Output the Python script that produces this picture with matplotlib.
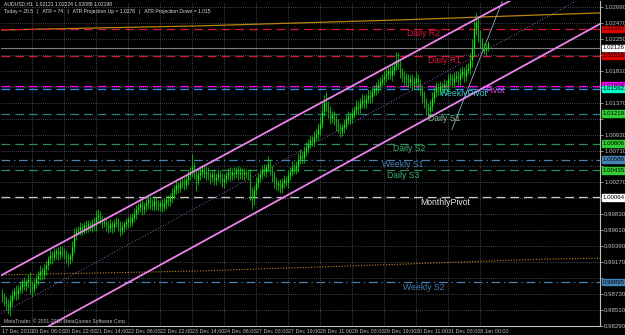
import matplotlib
matplotlib.use("Agg")
import matplotlib.pyplot as plt
import numpy as np
from matplotlib.transforms import blended_transform_factory

# ---------------- data (AUDUSD, H1) ----------------
first_open = 0.9872
closes = [
    0.9869, 0.9866, 0.9859, 0.9855, 0.9863, 0.9872, 0.9877, 0.9873, 0.9880, 0.9883,
    0.9888, 0.9884, 0.9889, 0.9894, 0.9885, 0.9880, 0.9888, 0.9894, 0.9899, 0.9905,
    0.9900, 0.9907, 0.9913, 0.9921, 0.9927, 0.9924, 0.9929, 0.9932, 0.9928, 0.9933,
    0.9931, 0.9927, 0.9924, 0.9921, 0.9925, 0.9938, 0.9954, 0.9960, 0.9962, 0.9965,
    0.9962, 0.9968, 0.9965, 0.9969, 0.9966, 0.9971, 0.9968, 0.9979, 0.9982, 0.9976,
    0.9971, 0.9973, 0.9968, 0.9964, 0.9969, 0.9965, 0.9971, 0.9973, 0.9968, 0.9962,
    0.9965, 0.9969, 0.9972, 0.9976, 0.9973, 0.9979, 0.9984, 0.9990, 0.9993, 0.9997,
    0.9990, 0.9995, 0.9999, 1.0004, 0.9998, 0.9995, 1.0001, 0.9997, 0.9994, 0.9998,
    0.9993, 0.9999, 1.0004, 1.0001, 1.0006, 1.0012, 1.0017, 1.0023, 1.0020, 1.0026,
    1.0028, 1.0024, 1.0031, 1.0037, 1.0042, 1.0048, 1.0039, 1.0031, 1.0037, 1.0042,
    1.0045, 1.0039, 1.0042, 1.0037, 1.0034, 1.0038, 1.0031, 1.0035, 1.0039, 1.0034,
    1.0028, 1.0032, 1.0037, 1.0041, 1.0037, 1.0042, 1.0039, 1.0043, 1.0039, 1.0042,
    1.0038, 1.0041, 1.0039, 1.0037, 1.0015, 1.0006, 1.0017, 1.0026, 1.0034, 1.0039,
    1.0045, 1.0042, 1.0048, 1.0053, 1.0045, 1.0037, 1.0028, 1.0023, 1.0026, 1.0020,
    1.0026, 1.0031, 1.0028, 1.0037, 1.0042, 1.0048, 1.0045, 1.0050, 1.0059, 1.0065,
    1.0061, 1.0070, 1.0075, 1.0081, 1.0086, 1.0083, 1.0090, 1.0094, 1.0100, 1.0108,
    1.0125, 1.0138, 1.0133, 1.0125, 1.0116, 1.0120, 1.0114, 1.0107, 1.0103, 1.0098,
    1.0103, 1.0108, 1.0114, 1.0119, 1.0116, 1.0122, 1.0127, 1.0133, 1.0130, 1.0136,
    1.0141, 1.0137, 1.0142, 1.0148, 1.0145, 1.0152, 1.0155, 1.0158, 1.0162, 1.0166,
    1.0169, 1.0174, 1.0177, 1.0180, 1.0175, 1.0182, 1.0188, 1.0196, 1.0191, 1.0180,
    1.0174, 1.0169, 1.0171, 1.0166, 1.0170, 1.0163, 1.0166, 1.0171, 1.0163, 1.0155,
    1.0147, 1.0138, 1.0130, 1.0125, 1.0133, 1.0144, 1.0152, 1.0158, 1.0155, 1.0160,
    1.0158, 1.0163, 1.0160, 1.0169, 1.0171, 1.0166, 1.0171, 1.0174, 1.0169, 1.0177,
    1.0180, 1.0174, 1.0182, 1.0185, 1.0196, 1.0213, 1.0240, 1.0248, 1.0229, 1.0221,
    1.0215, 1.0210, 1.02121, 1.02198,
]
up_wick_pips = [
    8, 6, 5, 7, 9, 6, 5, 8, 6, 7,   6, 8, 5, 7, 10, 6, 7, 5, 6, 8,
    5, 7, 6, 5, 8, 6, 7, 5, 6, 7,   6, 5, 7, 6, 5, 8, 10, 6, 5, 7,
    6, 5, 7, 6, 5, 6, 8, 10, 9, 5,  6, 7, 5, 6, 8, 5, 6, 7, 5, 6,
    7, 5, 6, 5, 7, 6, 8, 6, 5, 7,   6, 5, 7, 6, 5, 6, 7, 5, 6, 5,
    6, 7, 5, 6, 7, 8, 6, 7, 5, 6,   7, 6, 8, 7, 6, 18, 7, 5, 6, 7,
    6, 5, 7, 6, 5, 6, 7, 5, 6, 5,   6, 7, 5, 6, 7, 5, 6, 5, 7, 6,
    5, 6, 5, 6, 8, 6, 7, 8, 6, 7,   6, 7, 5, 10, 6, 5, 6, 7, 5, 6,
    7, 6, 5, 7, 6, 8, 6, 7, 9, 8,   6, 7, 8, 6, 7, 5, 8, 7, 9, 10,
    12, 10, 14, 6, 7, 6, 5, 6, 7, 6, 5, 6, 7, 6, 5, 7, 6, 8, 6, 7,
    8, 6, 7, 8, 6, 7, 6, 8, 7, 6,   8, 7, 8, 6, 7, 8, 7, 11, 9, 6,
    5, 6, 7, 6, 5, 7, 6, 8, 5, 6,   5, 6, 5, 6, 7, 8, 7, 8, 6, 7,
    6, 7, 5, 8, 7, 6, 8, 7, 6, 8,   7, 6, 8, 7, 10, 12, 14, 12, 6, 8,
    5, 4, 6, 2.6,
]
dn_wick_pips = [
    7, 9, 8, 10, 12, 7, 6, 8, 7, 6,  8, 6, 7, 8, 12, 9, 6, 7, 8, 6,
    7, 6, 8, 7, 6, 9, 6, 7, 8, 6,    7, 6, 8, 9, 7, 6, 8, 7, 6, 8,
    7, 6, 8, 7, 6, 7, 6, 8, 7, 6,    7, 6, 8, 7, 6, 8, 7, 6, 8, 9,
    6, 7, 6, 8, 7, 6, 7, 8, 6, 7,    8, 6, 7, 8, 7, 6, 7, 8, 6, 7,
    7, 6, 8, 7, 6, 7, 8, 6, 7, 6,    7, 8, 6, 7, 6, 8, 7, 16, 7, 6,
    7, 6, 8, 7, 9, 7, 8, 7, 6, 8,    7, 8, 6, 7, 8, 6, 7, 6, 8, 7,
    6, 7, 6, 7, 12, 16, 10, 8, 7, 6, 7, 6, 8, 7, 8, 9, 8, 7, 8, 7,
    8, 7, 6, 8, 7, 6, 7, 6, 8, 7,    8, 7, 6, 8, 7, 6, 7, 6, 8, 7,
    6, 7, 8, 9, 8, 7, 8, 9, 8, 9,    7, 8, 7, 6, 8, 7, 6, 7, 8, 7,
    6, 8, 7, 6, 8, 7, 6, 7, 8, 7,    6, 7, 8, 7, 6, 8, 7, 6, 8, 9,
    8, 7, 9, 8, 7, 8, 7, 6, 9, 8,    10, 9, 10, 9, 8, 7, 8, 7, 8, 7,
    8, 7, 6, 8, 7, 8, 7, 6, 8, 7,    6, 8, 7, 6, 8, 10, 12, 10, 8, 9,
    7, 6, 7, 3.3,
]

time_labels = ["17 Dec 2010", "20 Dec 06:00", "20 Dec 22:00", "21 Dec 14:00",
               "22 Dec 06:00", "22 Dec 22:00", "23 Dec 14:00", "24 Dec 06:00",
               "27 Dec 03:00", "27 Dec 19:00", "28 Dec 11:00", "29 Dec 03:00",
               "29 Dec 19:00", "30 Dec 11:00", "31 Dec 03:00", "3 Jan 00:00"]
time_label_bars = [0, 15, 31, 47, 63, 79, 95, 111, 127, 143, 159, 175, 191, 207, 223, 239]

price_ticks = [1.02690, 1.02470, 1.02250, 1.02030, 1.01810, 1.01590, 1.01370,
               1.01150, 1.00930, 1.00710, 1.00490, 1.00270, 1.00050, 0.99830,
               0.99610, 0.99390, 0.99170, 0.98950, 0.98730, 0.98510, 0.98290]

level_names = ["Daily R2", "Daily R1", "Pivot", "WeeklyPivot", "Daily S1", "Daily S2",
               "Weekly S1", "Daily S3", "MonthlyPivot", "Weekly S2"]
level_prices = [1.02387, 1.02016, 1.01604, 1.01562, 1.01219, 1.00806,
                1.00586, 1.00435, 1.00064, 0.98895]
bid_price = 1.02126

# trend channel anchors (bar index, price)
chan_upper = [(-1, 0.9898), (255, 1.0279)]
chan_lower = [(22.5, 0.98276), (299, 1.02456)]
# steep short-term line
steep_line = [(227.5, 1.01178), (246.5, 1.02511)]
# slow averages (bar index, price)
ma_slow_x = [-1, 49, 99, 149, 199, 269, 299]
ma_slow_y = [1.02373, 1.02401, 1.02429, 1.02470, 1.02511, 1.02580, 1.02607]
ma_low_x = [-1, 99, 199, 269, 299]
ma_low_y = [0.98994, 0.99049, 0.99142, 0.99211, 0.99225]

header1 = "AUDUSD,H1  1.02121 1.02224 1.02088 1.02198"
header2 = "Today = 20.5   |   ATR = 74   |   ATR Projection Up = 1.0276   |   ATR Projection Down = 1.015"

# ---------------- styles ----------------
level_colors = ["#DC143C", "#DC143C", "#FF00FF", "#1E90FF", "#2F7F7F", "#2E8B57",
                "#4682B4", "#2E8B57", "#C8C8C8", "#4682B4"]
label_colors = ["#DC143C", "#DC143C", "#EE44EE", "#40D0D0", "#8FBC8F", "#3CB371",
                "#4682B4", "#3CB371", "#E8E8E8", "#4682B4"]
box_colors = ["#E00000", "#E00000", "#FF00FF", "#00FFC8", "#32CD32", "#32CD32",
              "#4682B4", "#32CD32", "#FFFFFF", "#4682B4"]
level_styles = [(0, (7, 4)), (0, (7, 4)), (0, (7, 4)), (0, (7, 4)), (0, (7, 4)),
                (0, (7, 4)), (0, (7, 3, 1, 3)), (0, (7, 4)), (0, (7, 4)), (0, (7, 3, 1, 3))]
label_bar = [202.5, 213, 241.5, 219, 213, 195.5, 190, 192.5, 209, 200.5]

FONT = "Liberation Sans"
NARROW = ["Liberation Sans Narrow", "Liberation Sans", "DejaVu Sans"]
plt.rcParams['font.family'] = [FONT, 'DejaVu Sans']

fig = plt.figure(figsize=(6.25, 3.35), dpi=100, facecolor="black")
ax = fig.add_axes([1/625, 9/335, 599/625, 325/335], facecolor="black")

ax.set_xlim(-0.5, 299)
ax.set_ylim(0.98304, 1.02772)

# grid
for p in price_ticks:
    ax.axhline(p, color="#7A8690", lw=0.5, ls=(0, (1, 2)), zorder=0)
for b in time_label_bars[1:]:
    ax.axvline(b, color="#7A8690", lw=0.5, ls=(0, (1, 2)), zorder=0)

# slow averages
ax.plot(ma_slow_x, ma_slow_y, color="#B8860B", lw=0.9, zorder=1)
ax.plot(ma_low_x, ma_low_y, color="#C8862B", lw=0.8, ls=(0, (1, 1.5)), zorder=1)

# horizontal levels
for name, p, c, ls in zip(level_names, level_prices, level_colors, level_styles):
    ax.axhline(p, color=c, lw=0.9, ls=ls, zorder=2)

# bid line
ax.axhline(bid_price, color="#808080", lw=0.8, zorder=2)

# candles
closes_a = np.array(closes)
opens_a = np.array([first_open] + closes[:-1])
highs_a = np.maximum(opens_a, closes_a) + np.array(up_wick_pips) / 10000.0
lows_a = np.minimum(opens_a, closes_a) - np.array(dn_wick_pips) / 10000.0
idx = np.arange(len(closes))
ax.vlines(idx, lows_a, highs_a, color="#00D800", lw=0.55, zorder=4)
bull = closes_a >= opens_a
ax.vlines(idx[bull], opens_a[bull], closes_a[bull], color="#00FF00", lw=0.9, zorder=5)
ax.vlines(idx[~bull], closes_a[~bull], opens_a[~bull], color="#2A9A2A", lw=0.9, zorder=5)

# channel lines
def extend(p0, p1, xs):
    (x0, y0), (x1, y1) = p0, p1
    s = (y1 - y0) / (x1 - x0)
    xs = np.array(xs)
    return xs, y0 + s * (xs - x0)

ux, uy = extend(*chan_upper, [-10, 320])
lx, ly = extend(*chan_lower, [-10, 320])
ax.plot(ux, uy, color="#EE82EE", lw=1.3, zorder=6)
ax.plot(lx, ly, color="#EE82EE", lw=1.3, zorder=6)
ax.plot(ux, (uy + ly) / 2, color="#9A5CC0", lw=0.7, ls=(0, (1, 2)), zorder=3)
sx, sy = extend(*steep_line, [225, 262])
ax.plot(sx, sy, color="#8FA8C0", lw=0.6, zorder=3)

# level labels
for name, p, c, b in zip(level_names, level_prices, label_colors, label_bar):
    ax.text(b, p - 0.0007, name, color=c, fontsize=6.2, va="center", ha="left", zorder=7)

# right-side value boxes cover the axis labels beneath them
box_prices = level_prices + [bid_price]
box_cols = box_colors + ["#FFFFFF"]
tick_texts = []
for p in price_ticks:
    covered = any(abs(p - b) < 0.0007 for b in box_prices)
    tick_texts.append("" if covered else f"{p:.5f}")

# right axis
ax.yaxis.tick_right()
ax.set_yticks(price_ticks)
ax.set_yticklabels(tick_texts, family=NARROW)
ax.tick_params(axis="y", colors="#C0C0C0", labelsize=4.4, length=2, width=0.5, pad=1)
ax.set_xticks(time_label_bars)
ax.set_xticklabels(time_labels, family=NARROW)
ax.tick_params(axis="x", colors="#C0C0C0", labelsize=3.9, length=0, width=0.5, pad=2)
for lab in ax.get_xticklabels():
    lab.set_ha("left")
for s in ["left", "top"]:
    ax.spines[s].set_visible(False)
for s in ["right", "bottom"]:
    ax.spines[s].set_color("#C0C0C0")
    ax.spines[s].set_linewidth(0.8)

trans = blended_transform_factory(ax.transAxes, ax.transData)
for p, c in zip(box_prices, box_cols):
    ax.text(1.004, p, f"{p:.5f}", transform=trans, fontsize=4.4, color="black",
            family=NARROW, va="center", ha="left", zorder=10, clip_on=False,
            bbox=dict(boxstyle="square,pad=0.12", fc=c, ec=c))

# header and footer
fig.text(4/625, 1 - 4/335, header1, color="#E0E0E0", fontsize=3.6, va="center", ha="left")
fig.text(4/625, 1 - 11/335, header2, color="#E0E0E0", fontsize=3.6, va="center", ha="left")
ax.text(1, 0.98355, "MetaTrader, © 2001-2010 MetaQuotes Software Corp.", color="#C0C0C0",
        fontsize=3.6, va="center", ha="left", zorder=8)

fig.savefig("out.png", dpi=100, facecolor="black")
